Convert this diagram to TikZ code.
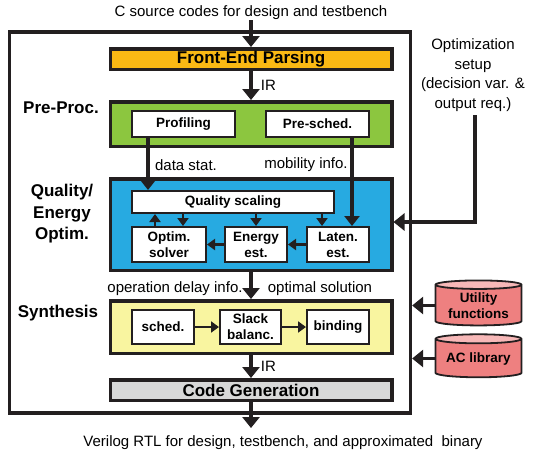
\documentclass[tikz,border=0pt]{standalone}
\usepackage{fontspec}
\setmainfont{Liberation Sans}
\usetikzlibrary{arrows.meta,shapes.geometric}

\definecolor{edge}{RGB}{35,31,32}
\definecolor{fepOrange}{RGB}{250,185,20}
\definecolor{preGreen}{RGB}{140,198,63}
\definecolor{optBlue}{RGB}{39,170,225}
\definecolor{synYellow}{RGB}{249,245,160}
\definecolor{cgGray}{RGB}{216,216,216}
\definecolor{libBody}{RGB}{238,128,128}
\definecolor{libTop}{RGB}{247,184,184}

\begin{document}
\begin{tikzpicture}
[
x = 1pt, y = -1pt,
>= {Triangle[width=17pt,length=11pt]},
stage/.style = {draw = edge, line width = 3.5pt, minimum width = 281.5pt, inner sep = 0pt},
sub/.style = {draw = edge, line width = 2pt, fill = white, inner sep = 0pt, align = center,
              font = \bfseries\fontsize{13.5}{16}\selectfont},
flow/.style = {->, line width = 3.8pt, draw = edge},
info/.style = {-{Triangle[width=15pt,length=10pt]}, line width = 3.2pt, draw = edge},
tiny/.style = {-{Triangle[width=11pt,length=8pt]}, line width = 2.6pt, draw = edge},
lib/.style = {cylinder, shape border rotate = 90, aspect = 0.14, draw = edge, line width = 1.8pt,
              cylinder uses custom fill, cylinder body fill = libBody, cylinder end fill = libTop,
              minimum width = 86pt, inner sep = 0pt, align = center,
              font = \bfseries\fontsize{13.5}{16}\selectfont},
txt/.style = {font = \fontsize{15}{19.5}\selectfont, inner sep = 0pt, align = center},
head/.style = {font = \bfseries\fontsize{17}{21.5}\selectfont, inner sep = 0pt, align = center},
]

\useasboundingbox (0,0) rectangle (546,451);

\def\midx{251}

% outer frame
\node (frame) at (210,222.5) [draw = edge, line width = 3.3pt, minimum width = 401pt, minimum height = 381pt, inner sep = 0pt] {};

\node (src) at (\midx,13) [txt] {C source codes for design and testbench};
\node (out) at (283,443) [txt] {Verilog RTL for design, testbench, and approximated\ \ binary};
\coordinate (outEnd) at (\midx,428);

% stages
\node (fep) at (\midx,59) [stage, fill = fepOrange, minimum height = 20.5pt, font = \bfseries\fontsize{17}{20}\selectfont] {Front-End Parsing};
\node (pre) at (\midx,124) [stage, fill = preGreen, minimum height = 44.5pt] {};
\node (qeo) at (\midx,224.5) [stage, fill = optBlue, minimum height = 91.5pt] {};
\node (syn) at (\midx,327) [stage, fill = synYellow, minimum height = 52.5pt] {};
\node (cg) at (\midx,390) [stage, fill = cgGray, minimum height = 20.5pt, font = \bfseries\fontsize{17}{20}\selectfont] {Code Generation};

% stage names
\node (preL) at (61,108) [head] {Pre-Proc.};
\node (qeoL) at (62,214) [head] {Quality/\\Energy\\Optim.};
\node (synL) at (58,313) [head] {Synthesis};

% pre-processing
\node (prof) at (183.5,124) [sub, minimum width = 103pt, minimum height = 26pt] {Profiling};
\node (psch) at (317.5,124) [sub, minimum width = 103pt, minimum height = 26pt] {Pre-sched.};

% quality/energy optimization
\node (qs) at (233,202) [sub, minimum width = 202pt, minimum height = 22pt] {Quality scaling};
\node (osv) at (169,244.5) [sub, minimum width = 74pt, minimum height = 35pt] {Optim.\\solver};
\node (ene) at (256,244.5) [sub, minimum width = 62pt, minimum height = 35pt] {Energy\\est.};
\node (lat) at (338,244.5) [sub, minimum width = 62pt, minimum height = 35pt] {Laten.\\est.};

% synthesis
\node (sch) at (163,327) [sub, minimum width = 62pt, minimum height = 34pt] {sched.};
\node (slk) at (250.5,327) [sub, minimum width = 61pt, minimum height = 34pt] {Slack\\balanc.};
\node (bnd) at (338,327) [sub, minimum width = 62pt, minimum height = 34pt] {binding};

% side inputs
\node (opt) at (473,75) [txt] {Optimization\\setup\\(decision var. \&\\output req.)};
\node (util) at (478.5,305.5) [lib, minimum height = 45pt] {Utility\\functions};
\node (acl) at (478.5,358.5) [lib, minimum height = 43pt] {AC library};

% main flow
\draw[flow] (src) -- (fep);
\draw[flow] (fep) -- (pre) node[midway, right = 8pt, txt] {IR};
\draw[flow] (qeo) -- (syn);
\draw[flow] (syn) -- (cg) node[midway, right = 8pt, txt] {IR};
\draw[flow] (cg) -- (outEnd);

\node (dly) at (175,289) [txt] {operation delay info.};
\node (sol) at (320,289) [txt] {optimal solution};

% pre-processing results
\draw[info] ([xshift=-35.5pt]prof.south) -- ([xshift=-35.5pt]prof.south |- qs.north);
\draw[info] ([xshift=34.5pt]psch.south) -- ([xshift=34.5pt]psch.south |- lat.north);
\node (dst) at (186,165) [txt] {data stat.};
\node (mob) at (306,165) [txt] {mobility info.};

% inside optimization
\draw[tiny] ([xshift=-14pt]osv.north) -- ([xshift=-14pt]osv.north |- qs.south);
\draw[tiny] ([xshift=14pt]osv.north |- qs.south) -- ([xshift=14pt]osv.north);
\draw[tiny] (ene.north |- qs.south) -- (ene.north);
\draw[tiny] ([xshift=-16pt]lat.north |- qs.south) -- ([xshift=-16pt]lat.north);
\draw[tiny] (lat) -- (ene);
\draw[tiny] (ene) -- (osv);

% inside synthesis
\draw[tiny] (sch) -- (slk);
\draw[tiny] (slk) -- (bnd);

% side arrows
\draw[flow] ([xshift=2pt,yshift=-4pt]opt.south) |- ([yshift=2.5pt]qeo.east);
\draw[flow] (util.west) -- (util.west -| frame.east);
\draw[flow] (acl.west) -- (acl.west -| frame.east);
\end{tikzpicture}
\end{document}
